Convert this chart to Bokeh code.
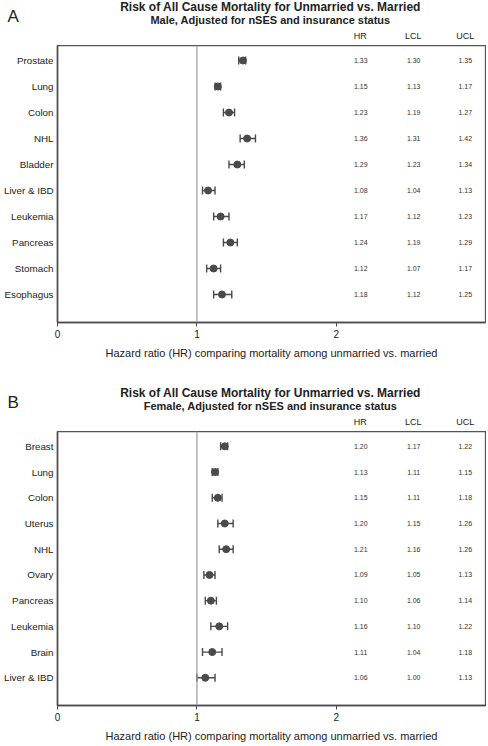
from bokeh.plotting import figure
from bokeh.models import Range1d, FixedTicker, Span, Whisker, TeeHead, ColumnDataSource
from bokeh.layouts import column
from bokeh.embed import file_html
from bokeh.resources import INLINE
from bokeh.core.properties import value

# ---------------- data ----------------
title_text = "Risk of All Cause Mortality for Unmarried vs. Married"
male_sub = "Male, Adjusted for nSES and insurance status"
female_sub = "Female, Adjusted for nSES and insurance status"

male_sites = ["Prostate", "Lung", "Colon", "NHL", "Bladder", "Liver & IBD",
              "Leukemia", "Pancreas", "Stomach", "Esophagus"]
male_hr = [1.33, 1.15, 1.23, 1.36, 1.29, 1.08, 1.17, 1.24, 1.12, 1.18]
male_lcl = [1.30, 1.13, 1.19, 1.31, 1.23, 1.04, 1.12, 1.19, 1.07, 1.12]
male_ucl = [1.35, 1.17, 1.27, 1.42, 1.34, 1.13, 1.23, 1.29, 1.17, 1.25]

female_sites = ["Breast", "Lung", "Colon", "Uterus", "NHL", "Ovary",
                "Pancreas", "Leukemia", "Brain", "Liver & IBD"]
female_hr = [1.20, 1.13, 1.15, 1.20, 1.21, 1.09, 1.10, 1.16, 1.11, 1.06]
female_lcl = [1.17, 1.11, 1.11, 1.15, 1.16, 1.05, 1.06, 1.10, 1.04, 1.00]
female_ucl = [1.22, 1.15, 1.18, 1.26, 1.26, 1.13, 1.14, 1.22, 1.18, 1.13]

x_ticks = [0, 1, 2]
col_headers = ["HR", "LCL", "UCL"]
x_label = "Hazard ratio (HR) comparing mortality among unmarried vs. married"

# ---------------- layout / style ----------------
FONT = "Liberation Sans"
W = 486
LEFT = 55
RIGHT = 1
FRAME_H = 277
HEAD_H = 45
XMAX = 3.07
PPX = (W - LEFT - RIGHT) / XMAX
COL_X = [2.175, 2.555, 2.925]
DARK = "#4a4a4a"
TXT = "#222222"


def no_frame_align(fig):
    if "frame_align" in fig.properties():
        fig.frame_align = False


def make_header(letter, subtitle):
    h = figure(width=W, height=HEAD_H, output_backend="svg", toolbar_location=None,
               title=None, x_axis_location=None, y_axis_location=None,
               x_range=Range1d(-LEFT / PPX, (W - LEFT) / PPX), y_range=Range1d(0, HEAD_H),
               min_border_left=0, min_border_right=0, min_border_top=0, min_border_bottom=0)
    no_frame_align(h)
    h.grid.visible = False
    h.outline_line_color = None
    h.background_fill_color = "white"
    h.border_fill_color = "white"

    h.text(x=[XMAX / 2], y=[HEAD_H - 6.5], text=[title_text], text_align="center",
           text_baseline="middle", text_font=value(FONT), text_font_size=value("12px"),
           text_font_style="bold", text_color=TXT)
    h.text(x=[XMAX / 2], y=[HEAD_H - 19.5], text=[subtitle], text_align="center",
           text_baseline="middle", text_font=value(FONT), text_font_size=value("11px"),
           text_font_style="bold", text_color=TXT)
    h.text(x=COL_X, y=[HEAD_H - 35] * len(COL_X), text=col_headers, text_align="center",
           text_baseline="middle", text_font=value(FONT), text_font_size=value("9px"),
           text_color=TXT)
    h.text(x=[-(LEFT - 7) / PPX], y=[HEAD_H - 16], text=[letter], text_align="left",
           text_baseline="middle", text_font=value(FONT), text_font_size=value("17px"),
           text_color=TXT)
    return h


def make_panel(sites, hr, lcl, ucl, height):
    n = len(sites)
    ys = [n - i for i in range(n)]
    y0 = 1 - 28 / 26
    y1 = n + 15 / 26

    p = figure(width=W, height=height, output_backend="svg", toolbar_location=None,
               title=None, x_range=Range1d(0, XMAX), y_range=Range1d(y0, y1),
               min_border_left=LEFT, min_border_right=RIGHT,
               min_border_top=0, min_border_bottom=height - FRAME_H)
    no_frame_align(p)
    p.grid.visible = False
    p.background_fill_color = "white"
    p.border_fill_color = "white"
    p.outline_line_color = "#555555"
    p.outline_line_width = 1.3

    src = ColumnDataSource(dict(
        y=ys, hr=hr, lcl=lcl, ucl=ucl,
        hr_s=[f"{v:.2f}" for v in hr],
        lcl_s=[f"{v:.2f}" for v in lcl],
        ucl_s=[f"{v:.2f}" for v in ucl],
    ))

    p.add_layout(Span(location=1, dimension="height", line_color="#9a9a9a", line_width=1.2))

    wh = Whisker(source=src, base="y", lower="lcl", upper="ucl", dimension="width",
                 line_color=DARK, line_width=1.4,
                 lower_head=TeeHead(size=8, line_color=DARK, line_width=1.4),
                 upper_head=TeeHead(size=8, line_color=DARK, line_width=1.4))
    p.add_layout(wh)
    p.scatter(x="hr", y="y", source=src, size=7, fill_color=DARK, line_color=DARK)

    for cx, col in zip(COL_X, ["hr_s", "lcl_s", "ucl_s"]):
        p.text(x=cx, y="y", text=col, source=src, text_align="center", text_baseline="middle",
               text_font=value(FONT), text_font_size=value("7px"), text_color="#333333")

    xa = p.xaxis[0]
    xa.ticker = FixedTicker(ticks=x_ticks)
    xa.minor_tick_line_color = None
    xa.major_tick_in = 0
    xa.major_tick_out = 4
    xa.major_tick_line_color = DARK
    xa.axis_line_color = DARK
    xa.axis_line_width = 1.5
    xa.major_label_text_font = FONT
    xa.major_label_text_font_size = "10px"
    xa.major_label_text_color = TXT
    xa.major_label_standoff = 3
    xa.axis_label = x_label
    xa.axis_label_text_font = FONT
    xa.axis_label_text_font_size = "11px"
    xa.axis_label_text_font_style = "normal"
    xa.axis_label_text_color = TXT
    xa.axis_label_standoff = 6

    ya = p.yaxis[0]
    ya.ticker = FixedTicker(ticks=ys)
    ya.major_label_overrides = {y: s for y, s in zip(ys, sites)}
    ya.minor_tick_line_color = None
    ya.major_tick_in = 0
    ya.major_tick_out = 0
    ya.axis_line_color = DARK
    ya.axis_line_width = 1.5
    ya.major_label_text_font = FONT
    ya.major_label_text_font_size = "9.8px"
    ya.major_label_text_color = TXT
    ya.major_label_standoff = 4
    return p


hA = make_header("A", male_sub)
pA = make_panel(male_sites, male_hr, male_lcl, male_ucl, 341)
hB = make_header("B", female_sub)
pB = make_panel(female_sites, female_hr, female_lcl, female_ucl, 313)

layout = column(hA, pA, hB, pB, spacing=0)
open("out.html", "w").write(file_html(layout, INLINE))
